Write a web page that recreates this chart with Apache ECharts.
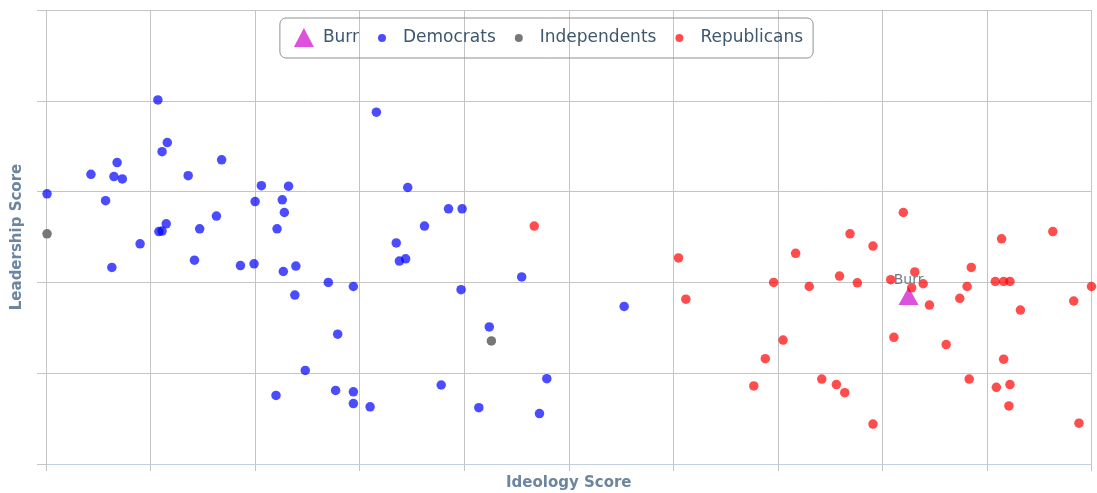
<!DOCTYPE html>
<html lang="en" style="height: 100%">
  <head>
    <meta charset="utf-8">
    <title>Leadership vs Ideology</title>
  </head>

  <body style="height: 100%; margin: 0">
    <div id="container" style="width: 1097px; height: 493px;"></div>
    <script type="text/javascript" src="https://cdn.jsdelivr.net/npm/echarts@6/dist/echarts.min.js"></script>
    <script type="text/javascript">
      // [ideology, leadership]
      var burr = [[0.825, 0.370]];

      var democrats = [
        [0.107, 0.802], [0.316, 0.775], [0.116, 0.708], [0.111, 0.688], [0.068, 0.664],
        [0.168, 0.670], [0.043, 0.638], [0.065, 0.633], [0.073, 0.628], [0.136, 0.635],
        [0.001, 0.595], [0.206, 0.613], [0.232, 0.612], [0.057, 0.580], [0.200, 0.578],
        [0.226, 0.582], [0.228, 0.554], [0.163, 0.546], [0.115, 0.529], [0.108, 0.512],
        [0.111, 0.513], [0.147, 0.518], [0.221, 0.518], [0.090, 0.485], [0.335, 0.487],
        [0.338, 0.447], [0.063, 0.433], [0.142, 0.449], [0.186, 0.437], [0.199, 0.441],
        [0.227, 0.424], [0.239, 0.436], [0.270, 0.400], [0.294, 0.391], [0.346, 0.609],
        [0.385, 0.562], [0.398, 0.562], [0.362, 0.524], [0.344, 0.452], [0.455, 0.412],
        [0.397, 0.384], [0.238, 0.372], [0.279, 0.286], [0.248, 0.206], [0.220, 0.151],
        [0.277, 0.162], [0.294, 0.159], [0.294, 0.133], [0.310, 0.126], [0.553, 0.347],
        [0.424, 0.302], [0.378, 0.174], [0.479, 0.188], [0.414, 0.124], [0.472, 0.111]
      ];

      var independents = [[0.001, 0.507], [0.426, 0.271]];

      var republicans = [
        [0.467, 0.524], [0.605, 0.454], [0.612, 0.363], [0.820, 0.554], [0.769, 0.507],
        [0.963, 0.512], [0.914, 0.496], [0.791, 0.480], [0.717, 0.464], [0.885, 0.433],
        [0.831, 0.423], [0.759, 0.414], [0.696, 0.400], [0.730, 0.391], [0.776, 0.399],
        [0.808, 0.406], [0.839, 0.397], [0.828, 0.388], [0.881, 0.391], [0.908, 0.402],
        [0.916, 0.402], [0.922, 0.402], [1.000, 0.391], [0.874, 0.365], [0.983, 0.359],
        [0.845, 0.350], [0.932, 0.339], [0.705, 0.273], [0.688, 0.232], [0.811, 0.279],
        [0.861, 0.263], [0.916, 0.231], [0.677, 0.172], [0.742, 0.187], [0.756, 0.175],
        [0.764, 0.157], [0.883, 0.187], [0.909, 0.169], [0.922, 0.175], [0.921, 0.128],
        [0.791, 0.088], [0.988, 0.090]
      ];

      var dom = document.getElementById("container");
      var myChart = echarts.init(dom, null, {renderer: 'canvas'});

      // legend icons padded inside a 24x20 box so text sits where it should
      var triIcon = 'path://M0,0M0,19L10,0L20,19ZM24,20';
      var dotIcon = 'path://M0,0M4,10A4,4,0,1,1,12,10A4,4,0,1,1,4,10ZM24,20';

      var gridColor = '#c4c4c4';
      var titleStyle = {
        color: '#6d869f',
        fontWeight: 'bold',
        fontSize: 15,
        fontFamily: 'DejaVu Sans'
      };

      var option = {
        animation: false,
        textStyle: {fontFamily: 'DejaVu Sans'},
        grid: {
          left: 46,
          right: 5.5,
          top: 10,
          bottom: 29,
          containLabel: false,
          outerBoundsMode: 'none'
        },
        legend: {
          left: 'center',
          top: 18,
          padding: [10, 10, 10, 14],
          itemGap: 15,
          itemWidth: 24,
          itemHeight: 20,
          borderColor: '#909090',
          borderWidth: 1,
          borderRadius: 6,
          textStyle: {
            color: '#3e576f',
            fontSize: 17,
            fontFamily: 'DejaVu Sans'
          },
          data: [
            {name: 'Burr', icon: triIcon},
            {name: 'Democrats', icon: dotIcon},
            {name: 'Independents', icon: dotIcon},
            {name: 'Republicans', icon: dotIcon}
          ]
        },
        xAxis: {
          type: 'value',
          min: 0,
          max: 1,
          interval: 0.1,
          name: 'Ideology Score',
          nameLocation: 'middle',
          nameGap: 12,
          nameTextStyle: titleStyle,
          axisLine: {lineStyle: {color: '#c0d0e0', width: 1}},
          axisTick: {show: true, length: 7, lineStyle: {color: gridColor}},
          axisLabel: {show: false},
          splitLine: {show: true, lineStyle: {color: gridColor, width: 1}}
        },
        yAxis: {
          type: 'value',
          min: 0,
          max: 1,
          interval: 0.2,
          name: 'Leadership Score',
          nameLocation: 'middle',
          nameGap: 21,
          nameTextStyle: titleStyle,
          axisLine: {show: false},
          axisTick: {show: true, length: 9, lineStyle: {color: gridColor}},
          axisLabel: {show: false},
          splitLine: {show: true, lineStyle: {color: gridColor, width: 1}}
        },
        series: [
          {
            name: 'Burr',
            type: 'scatter',
            symbol: 'triangle',
            symbolSize: [20, 18],
            itemStyle: {color: '#dc52dc', opacity: 1},
            label: {
              show: true,
              position: 'top',
              distance: 0,
              formatter: 'Burr',
              color: '#6f7a86',
              fontSize: 14,
              fontFamily: 'DejaVu Sans'
            },
            data: burr
          },
          {
            name: 'Democrats',
            type: 'scatter',
            symbolSize: 9.5,
            itemStyle: {color: 'rgba(0, 0, 255, 0.7)', opacity: 1},
            data: democrats
          },
          {
            name: 'Independents',
            type: 'scatter',
            symbolSize: 9.5,
            itemStyle: {color: '#777777', opacity: 1},
            data: independents
          },
          {
            name: 'Republicans',
            type: 'scatter',
            symbolSize: 9.5,
            itemStyle: {color: 'rgba(255, 0, 0, 0.7)', opacity: 1},
            data: republicans
          }
        ]
      };

      if (option && typeof option === 'object') {
          myChart.setOption(option);
      }
    </script>
  </body>
</html>
